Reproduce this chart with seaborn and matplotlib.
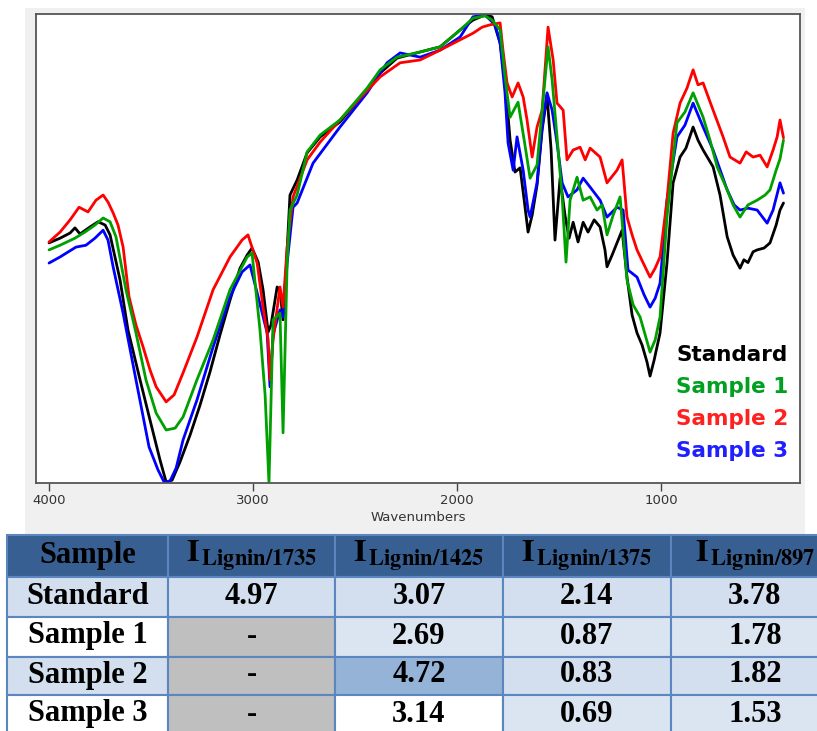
import pandas as pd
import seaborn as sns
import matplotlib.pyplot as plt
from matplotlib.patches import Rectangle

sns.set_theme(style='white')
plt.rcParams['font.family'] = ['DejaVu Sans']
plt.rcParams['mathtext.fontset'] = 'stix'

# FTIR spectra: wavenumber (cm-1) and transmittance (%)
std_wn = [4000, 3946, 3897, 3873, 3848, 3799, 3760, 3725, 3701, 3652, 3613, 3554, 3505, 3456, 3426, 3397,
          3358, 3309, 3260, 3211, 3162, 3113, 3064, 3029, 3005, 2975, 2951, 2926, 2912, 2882, 2868, 2853,
          2838, 2819, 2784, 2735, 2671, 2574, 2441, 2377, 2294, 2181, 2083, 1985, 1922, 1863, 1828, 1789,
          1765, 1740, 1716, 1691, 1671, 1652, 1632, 1608, 1583, 1559, 1539, 1520, 1495, 1471, 1451, 1431,
          1407, 1382, 1358, 1328, 1299, 1275, 1265, 1240, 1216, 1191, 1167, 1142, 1118, 1093, 1069, 1054,
          1034, 1005, 971, 941, 907, 878, 843, 819, 794, 745, 711, 676, 647, 613, 594, 574, 549, 529, 495,
          466, 436, 417, 400]
std_t = [51.2, 52.2, 53.3, 54.4, 53.1, 54.6, 55.7, 55.0, 52.9, 43.3, 32.6, 22.0, 13.4, 4.9, 0.2, 0.6,
         4.5, 10.2, 16.6, 23.7, 31.6, 39.0, 45.8, 48.6, 50.1, 47.1, 41.2, 32.2, 33.7, 41.8, 41.2, 34.8,
         45.4, 61.4, 64.6, 70.4, 73.8, 77.0, 83.8, 87.4, 90.6, 91.9, 93.0, 96.6, 98.7, 99.8, 99.4, 93.8,
         85.9, 73.1, 66.3, 67.2, 60.3, 53.5, 57.1, 63.5, 75.3, 82.7, 71.0, 51.8, 65.0, 57.1, 52.2, 55.6,
         51.4, 55.6, 53.5, 56.1, 54.6, 49.7, 46.1, 48.6, 51.2, 53.9, 43.9, 35.8, 32.0, 29.4, 25.8, 22.8,
         26.2, 32.0, 46.9, 64.0, 69.5, 71.4, 75.9, 73.1, 71.0, 67.4, 61.4, 52.5, 48.6, 45.8, 47.6, 47.0,
         49.3, 49.7, 50.1, 51.2, 55.0, 58.2, 59.7]

s1_wn = [4000, 3946, 3873, 3824, 3775, 3735, 3701, 3672, 3623, 3574, 3525, 3475, 3426, 3382, 3343, 3275,
         3196, 3113, 3029, 3005, 2966, 2941, 2922, 2902, 2868, 2853, 2833, 2819, 2784, 2735, 2671, 2574,
         2441, 2377, 2294, 2181, 2083, 1985, 1922, 1863, 1828, 1789, 1765, 1740, 1701, 1671, 1642, 1608,
         1583, 1554, 1534, 1510, 1485, 1466, 1446, 1412, 1382, 1348, 1314, 1289, 1265, 1235, 1201, 1167,
         1137, 1103, 1078, 1054, 1029, 1005, 971, 922, 883, 843, 794, 760, 725, 676, 647, 613, 574, 529,
         490, 466, 436, 417, 400]
s1_t = [49.7, 50.7, 52.2, 53.5, 55.0, 56.5, 55.7, 52.5, 41.2, 32.0, 22.0, 14.9, 11.3, 11.7, 14.1, 22.0,
        30.5, 41.2, 48.2, 49.0, 32.6, 18.8, 0.0, 34.8, 36.2, 10.7, 46.9, 58.2, 61.4, 70.6, 74.2, 77.4,
        84.2, 88.1, 90.8, 91.9, 93.0, 96.6, 99.1, 99.6, 98.7, 96.6, 86.6, 78.0, 81.2, 73.1, 65.0, 67.8,
        79.5, 93.0, 85.9, 73.8, 61.0, 47.1, 60.3, 65.2, 60.3, 61.0, 58.2, 59.3, 52.9, 57.1, 61.0, 43.3,
        38.0, 35.4, 31.6, 27.9, 30.5, 35.4, 56.7, 76.8, 79.1, 83.2, 78.0, 73.1, 67.4, 62.5, 59.3, 56.7,
        59.3, 60.3, 61.4, 62.5, 66.7, 69.1, 73.1]

s2_wn = [4000, 3946, 3897, 3853, 3809, 3770, 3735, 3711, 3686, 3662, 3637, 3608, 3574, 3539, 3505, 3475,
         3426, 3387, 3343, 3275, 3196, 3113, 3054, 3025, 2980, 2951, 2926, 2917, 2902, 2868, 2853, 2833,
         2804, 2735, 2671, 2574, 2475, 2377, 2279, 2181, 2083, 1985, 1922, 1877, 1838, 1789, 1775, 1755,
         1730, 1701, 1676, 1657, 1632, 1608, 1583, 1554, 1529, 1510, 1480, 1461, 1431, 1397, 1372, 1348,
         1299, 1265, 1216, 1191, 1167, 1142, 1118, 1083, 1054, 1029, 1005, 971, 941, 907, 873, 843, 819,
         794, 745, 696, 662, 613, 583, 549, 515, 480, 451, 431, 417, 400]
s2_t = [51.4, 53.5, 56.1, 58.8, 57.8, 60.3, 61.4, 59.9, 57.6, 55.0, 50.3, 39.7, 33.7, 29.0, 24.1, 20.5,
        17.3, 18.8, 23.5, 31.1, 41.2, 48.2, 51.8, 52.9, 46.9, 37.5, 30.5, 22.0, 30.5, 41.8, 37.5, 50.3,
        61.0, 68.9, 72.7, 77.4, 82.1, 86.6, 89.6, 90.2, 92.3, 94.5, 95.9, 97.2, 97.7, 98.1, 92.3, 85.3,
        82.3, 85.3, 82.3, 77.4, 69.5, 75.9, 79.5, 97.2, 90.2, 81.0, 79.5, 68.9, 71.0, 71.6, 68.9, 71.4,
        69.5, 64.0, 66.7, 68.9, 56.7, 52.9, 49.7, 46.5, 43.9, 45.8, 48.2, 60.3, 74.6, 81.0, 84.2, 88.1,
        84.9, 85.3, 79.5, 73.8, 69.5, 68.2, 70.6, 69.5, 69.9, 67.4, 71.0, 73.8, 77.4, 73.6]

s3_wn = [4000, 3946, 3868, 3819, 3775, 3735, 3711, 3686, 3637, 3574, 3510, 3466, 3436, 3407, 3377, 3343,
         3275, 3196, 3113, 3054, 3015, 2975, 2931, 2917, 2902, 2868, 2853, 2833, 2804, 2784, 2706, 2574,
         2441, 2343, 2279, 2181, 2083, 1985, 1922, 1863, 1814, 1789, 1765, 1750, 1725, 1706, 1676, 1652,
         1642, 1608, 1583, 1559, 1534, 1510, 1485, 1456, 1412, 1382, 1348, 1299, 1265, 1216, 1186, 1162,
         1118, 1083, 1054, 1029, 1005, 971, 922, 883, 843, 794, 745, 676, 642, 613, 574, 529, 480, 451,
         417, 400]
s3_t = [46.9, 48.2, 50.3, 50.7, 52.2, 53.9, 51.8, 46.1, 36.2, 22.0, 7.7, 2.8, 0.2, 0.4, 3.2, 9.2,
        17.7, 29.0, 39.7, 45.0, 46.5, 39.7, 32.0, 20.5, 31.6, 36.9, 35.4, 46.9, 58.8, 59.7, 68.2, 75.9,
        83.2, 89.6, 91.7, 90.8, 92.3, 95.1, 99.4, 99.8, 97.7, 93.8, 83.2, 72.5, 66.7, 73.8, 66.7, 58.2,
        56.7, 64.0, 75.9, 83.2, 79.5, 72.5, 64.0, 61.0, 62.5, 65.0, 63.1, 60.3, 56.7, 58.8, 58.2, 45.4,
        43.9, 40.1, 37.5, 39.4, 42.6, 60.3, 73.8, 76.3, 81.0, 75.9, 71.0, 62.5, 59.3, 58.2, 58.6, 58.2,
        55.4, 58.2, 64.0, 61.8]

series = ['Standard', 'Sample 1', 'Sample 2', 'Sample 3']
line_colors = ['#000000', '#00a000', '#ff0000', '#0000ff']
text_colors = ['#000000', '#00a020', '#ff2020', '#2020ff']
x_ticks = [4000, 3000, 2000, 1000]

# table values
table_header = ['Sample', r'$\mathbf{I}_{\,\mathbf{Lignin/1735}}$', r'$\mathbf{I}_{\,\mathbf{Lignin/1425}}$',
                r'$\mathbf{I}_{\,\mathbf{Lignin/1375}}$', r'$\mathbf{I}_{\,\mathbf{Lignin/897}}$']
i_1735 = ['4.97', '-', '-', '-']
i_1425 = ['3.07', '2.69', '4.72', '3.14']
i_1375 = ['2.14', '0.87', '0.83', '0.69']
i_897 = ['3.78', '1.78', '1.82', '1.53']
cell_fill = [
    ['#d3dfee', '#d3dfee', '#d3dfee', '#d3dfee', '#d3dfee'],
    ['#ffffff', '#bfbfbf', '#dbe5f1', '#dbe5f1', '#dbe5f1'],
    ['#d3dfee', '#bfbfbf', '#95b3d7', '#d3dfee', '#d3dfee'],
    ['#ffffff', '#bfbfbf', '#ffffff', '#dbe5f1', '#dbe5f1'],
]

frames = [pd.DataFrame({'wn': wn, 't': t, 'sample': name})
          for name, wn, t in zip(series, [std_wn, s1_wn, s2_wn, s3_wn], [std_t, s1_t, s2_t, s3_t])]
spectra = pd.concat(frames, ignore_index=True)

W, H = 817, 731
fig = plt.figure(figsize=(W / 100, H / 100), dpi=100)
fig.patch.set_facecolor('white')

# ---- background panel + table (one full-figure axes in pixel units) ----
tab = fig.add_axes([0, 0, 1, 1], zorder=0)
tab.set_xlim(0, W)
tab.set_ylim(H, 0)
tab.axis('off')
tab.add_patch(Rectangle((25, 8), 780, 527, facecolor='#f0f0f0', edgecolor='none'))

col_edges = [7, 168, 335, 503, 671, 839]
row_edges = [535, 577, 617, 657, 695, 735]
grid_blue = '#5b86c0'

for j in range(5):
    x0, x1 = col_edges[j], col_edges[j + 1]
    tab.add_patch(Rectangle((x0, row_edges[0]), x1 - x0, row_edges[1] - row_edges[0],
                            facecolor='#375f92', edgecolor=grid_blue, lw=1.5))
    if j == 0:
        tab.text((x0 + x1) / 2, 556, table_header[j], ha='center', va='center', fontsize=22,
                 fontweight='bold', family='Liberation Serif', color='black')
    else:
        tab.text((x0 + x1) / 2, 557, table_header[j], ha='center', va='center', fontsize=23,
                 color='black')

rows = list(zip(series, i_1735, i_1425, i_1375, i_897))
for i, row in enumerate(rows):
    y0, y1 = row_edges[i + 1], row_edges[i + 2]
    for j, val in enumerate(row):
        x0, x1 = col_edges[j], col_edges[j + 1]
        tab.add_patch(Rectangle((x0, y0), x1 - x0, y1 - y0, facecolor=cell_fill[i][j],
                                edgecolor=grid_blue, lw=1.5))
        tab.text((x0 + x1) / 2, (y0 + y1) / 2 - 1, val, ha='center', va='center', fontsize=22,
                 fontweight='bold', family='Liberation Serif', color='black')

# ---- spectrum ----
ax = fig.add_axes([36 / W, 1 - 483 / H, 764 / W, 469 / H], zorder=2)
ax.set_facecolor('white')
sns.lineplot(data=spectra, x='wn', y='t', hue='sample',
             hue_order=['Standard', 'Sample 3', 'Sample 2', 'Sample 1'],
             palette=dict(zip(series, line_colors)), estimator=None, linewidth=2.0,
             legend=False, ax=ax)
ax.set_xlim(4064, 319)
ax.set_ylim(0, 100)
ax.set_xticks(x_ticks)
ax.set_xticklabels([str(v) for v in x_ticks])
ax.set_yticks([])
ax.tick_params(axis='x', bottom=True, direction='out', length=6, width=1, color='#444444',
               labelsize=9.5, labelcolor='#333333', pad=2)
ax.set_xlabel('Wavenumbers', fontsize=9.5, color='#333333', labelpad=3)
ax.set_ylabel('')
for sp in ax.spines.values():
    sp.set_visible(True)
    sp.set_color('#555555')
    sp.set_linewidth(1.3)

for i, (name, c) in enumerate(zip(series, text_colors)):
    ax.text(0.984, 0.273 - i * 0.0682, name, transform=ax.transAxes, ha='right', va='center',
            color=c, fontsize=15.5, fontweight='bold')

fig.savefig('out.png', dpi=100, facecolor='white')
